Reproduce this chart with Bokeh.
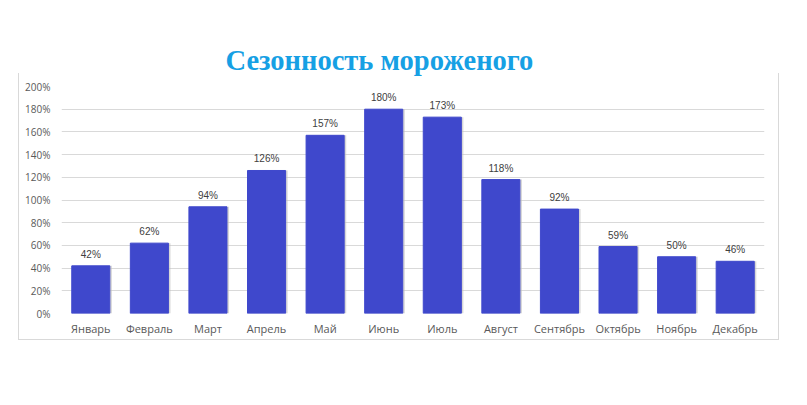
from bokeh.plotting import figure
from bokeh.models import ColumnDataSource, NumeralTickFormatter, Range1d, FixedTicker, Title, InlineStyleSheet
from bokeh.transform import dodge
from bokeh.embed import file_html
from bokeh.resources import INLINE

months = ["Январь", "Февраль", "Март", "Апрель", "Май", "Июнь", "Июль",
          "Август", "Сентябрь", "Октябрь", "Ноябрь", "Декабрь"]
values = [0.42, 0.62, 0.94, 1.26, 1.57, 1.80, 1.73, 1.18, 0.92, 0.59, 0.50, 0.46]
labels = ["42%", "62%", "94%", "126%", "157%", "180%", "173%", "118%", "92%", "59%", "50%", "46%"]
y_ticks = [0, 0.2, 0.4, 0.6, 0.8, 1.0, 1.2, 1.4, 1.6, 1.8, 2.0]
title_text = "Сезонность мороженого"

src = ColumnDataSource(dict(m=months, v=values, lab=labels))

border_css = InlineStyleSheet(css="""
:host { position: relative; }
:host::after {
  content: "";
  position: absolute;
  left: 18px; top: 73px; width: 759px; height: 266px;
  border: 1px solid #d9d9d9;
  border-top: none;
  pointer-events: none;
}
""")

p = figure(x_range=months, y_range=Range1d(0, 2.0), width=790, height=352,
           output_backend="svg", toolbar_location=None,
           min_border_left=61, min_border_right=26, min_border_top=86, min_border_bottom=39,
           stylesheets=[border_css])

t = Title(text=title_text, align="left", text_font="Liberation Serif",
          text_font_size="28.5px", text_font_style="bold", text_color="#16a0e4",
          offset=164, standoff=22)
p.add_layout(t, "above")

# shadow
p.vbar(x=dodge("m", 0.035, range=p.x_range), top="v", width=0.65, source=src,
       color="#bdbdbd", fill_alpha=0.6, line_alpha=0)
p.vbar(x="m", top="v", width=0.65, source=src, color="#3f48cc", line_color="#3f48cc")

p.text(x="m", y="v", text="lab", source=src, text_align="center", text_baseline="bottom",
       y_offset=-6, text_font_size="10px", text_color="#404040")

p.yaxis.ticker = FixedTicker(ticks=y_ticks)
p.yaxis.formatter = NumeralTickFormatter(format="0%")
for ax in (p.xaxis, p.yaxis):
    ax.axis_line_color = None
    ax.major_tick_line_color = None
    ax.minor_tick_line_color = None
    ax.major_tick_out = 0
    ax.major_tick_in = 0
    ax.major_label_text_color = "#595959"
    ax.major_label_text_font = "Open Sans"
p.yaxis.major_label_text_font_size = "10px"
p.xaxis.major_label_text_font_size = "11px"
p.yaxis.major_label_standoff = 11
p.xaxis.major_label_standoff = 7

p.xgrid.grid_line_color = None
p.ygrid.grid_line_color = "#d9d9d9"
p.ygrid.ticker = FixedTicker(ticks=y_ticks)
p.outline_line_color = None
p.background_fill_color = "white"
p.border_fill_color = "white"

open("out.html", "w").write(file_html(p, INLINE))
